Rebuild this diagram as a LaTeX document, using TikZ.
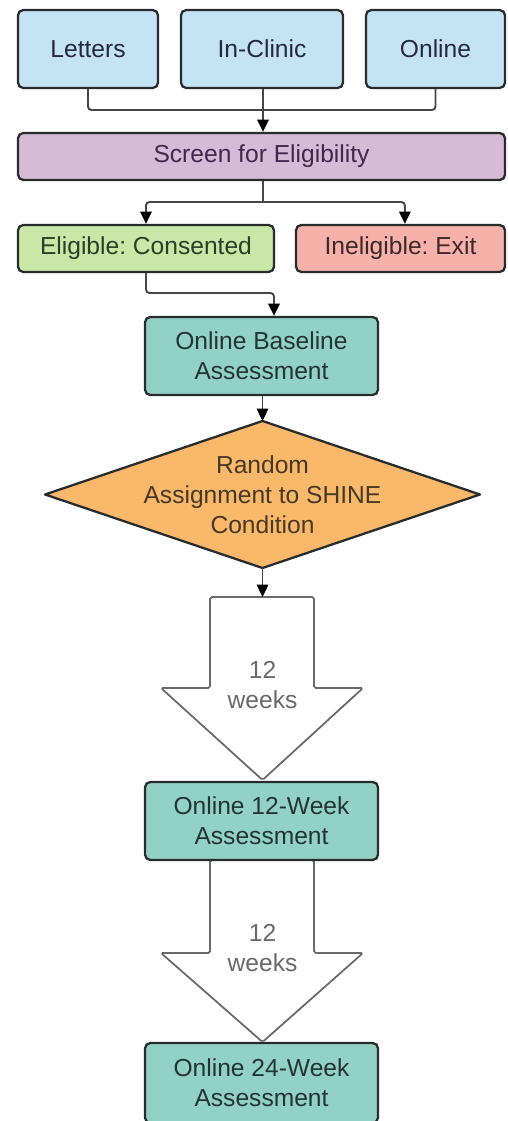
\documentclass[tikz,border=0pt]{standalone}
\usepackage{fontspec}
\setmainfont{Liberation Sans}
\usetikzlibrary{arrows.meta}
\definecolor{rim}{RGB}{40,44,44}
\definecolor{wire}{RGB}{70,70,70}
\definecolor{blockgray}{RGB}{105,105,105}
\definecolor{boxblue}{RGB}{196,228,246}
\definecolor{boxpurple}{RGB}{214,186,214}
\definecolor{boxgreen}{RGB}{201,232,168}
\definecolor{boxred}{RGB}{246,178,170}
\definecolor{boxteal}{RGB}{146,210,198}
\definecolor{boxorange}{RGB}{249,184,106}
\frenchspacing

\begin{document}
\begin{tikzpicture}[>={Triangle[width=6.5pt,length=7pt,color=black]}, x=0.02cm, y=-0.02cm,
	font=\fontsize{14}{17}\selectfont,
	box/.style={draw=rim, line width=1.3pt, rounded corners=3pt, inner sep=0pt, align=center, minimum height=1.56cm},
	flat/.style={box, minimum height=0.94cm},
	link/.style={wire, line width=1.1pt, rounded corners=2pt},
	block/.style={draw=blockgray, fill=white, line width=1pt, rounded corners=1pt}]

	\useasboundingbox (0,0) rectangle (507,1121);

	% sources
	\node[box, fill=boxblue, text=rim!90!blue, minimum width=2.8cm] (letters) at (88,49) {Letters};
	\node[box, fill=boxblue, text=rim!90!blue, minimum width=3.24cm] (inclinic) at (262,49) {In-Clinic};
	\node[box, fill=boxblue, text=rim!90!blue, minimum width=2.78cm] (online) at (435.5,49) {Online};

	\node[flat, fill=boxpurple, text=rim!85!magenta, minimum width=9.74cm] (screen) at (261.5,156.5) {Screen for Eligibility};

	\coordinate (join) at (263,110);
	\draw[link] (letters.south) |- (join) -| (online.south);
	\draw[link, ->] (join |- inclinic.south) -- (join |- screen.north);

	\node[flat, fill=boxgreen, text=rim!90!green, minimum width=5.12cm] (eligible) at (146,248.5) {Eligible: Consented};
	\node[flat, fill=boxred, text=rim!90!red, minimum width=4.18cm] (ineligible) at (400.5,248.5) {Ineligible: Exit};

	\coordinate (split) at (263,202);
	\draw[link] (split |- screen.south) -- (split);
	\draw[link, ->] (split) -| (eligible.north);
	\draw[link, ->] (split) -| ([xshift=2.5]ineligible.north);

	\node[box, fill=boxteal, text=rim!90!teal, minimum width=4.66cm] (baseline) at (261.5,356) {Online Baseline\\Assessment};

	\coordinate (bend) at (274,293);
	\draw[link, ->] (eligible.south) |- (bend) -- (bend |- baseline.north);

	% random assignment
	\coordinate (rtop) at (262.5,421);
	\coordinate (rbot) at (262.5,568);
	\draw[draw=rim, line width=1.3pt, fill=boxorange, line join=round] (rtop) -- (480,494.5) -- (rbot) -- (45,494.5) -- cycle;
	\node[align=center, text=rim!85!orange] (random) at (262.5,495) {Random\\Assignment to SHINE\\Condition};

	\draw[link, ->] (rtop |- baseline.south) -- (rtop);

	% 12 weeks
	\coordinate (atop) at (262.5,597);
	\draw[block] (210,597) -- (314,597) -- (314,688) -- (363,688) -- (262.5,780) -- (161,688) -- (210,688) -- cycle;
	\node[align=center, text=blockgray] (weeksa) at (262.5,685) {12\\weeks};
	\draw[link, ->] (rbot) -- (atop);

	\draw[block] (210,860) -- (314,860) -- (314,953) -- (363,953) -- (262.5,1042) -- (161,953) -- (210,953) -- cycle;
	\node[align=center, text=blockgray] (weeksb) at (262.5,948) {12\\weeks};

	\node[box, fill=boxteal, text=rim!90!teal, minimum width=4.66cm] (twelve) at (261.5,821) {Online 12-Week\\Assessment};
	\node[box, fill=boxteal, text=rim!90!teal, minimum width=4.66cm, minimum height=1.6cm] (twentyfour) at (261.5,1083) {Online 24-Week\\Assessment};

\end{tikzpicture}
\end{document}
